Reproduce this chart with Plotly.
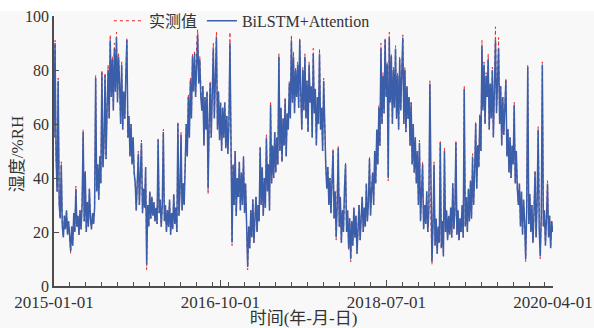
import pandas as pd
import plotly.graph_objects as go

start_date = "2015-01-01"
step = "4D"

predicted = [
    55, 90, 48, 35, 76, 30, 25, 45, 22, 18,
    26, 21, 28, 19, 24, 17, 13, 22, 15, 27,
    20, 36, 22, 26, 19, 28, 21, 30, 57, 24,
    42, 20, 31, 22, 36, 25, 21, 27, 23, 29,
    77, 35, 45, 32, 48, 38, 79, 44, 52, 78,
    47, 66, 80, 62, 91, 70, 84, 65, 88, 72,
    92, 68, 85, 75, 60, 82, 58, 72, 62, 78,
    91, 55, 63, 48, 60, 45, 55, 42, 38, 28,
    42, 49, 30, 40, 53, 27, 36, 29, 44, 8,
    30, 22, 35, 25, 33, 26, 31, 24, 29, 23,
    54, 27, 32, 22, 30, 57, 24, 30, 20, 28,
    22, 32, 19, 27, 21, 34, 23, 29, 20, 60,
    26, 35, 56, 28, 38, 30, 45, 60, 48, 70,
    55, 76, 62, 85, 72, 86, 70, 88, 93, 75,
    84, 70, 65, 74, 52, 70, 58, 72, 36, 60,
    75, 55, 70, 88, 62, 76, 92, 58, 72, 54,
    68, 50, 66, 55, 68, 51, 63, 49, 60, 90,
    55, 16, 45, 30, 50, 26, 40, 33, 46, 28,
    42, 30, 48, 27, 38, 20, 7, 22, 14, 28,
    18, 32, 16, 25, 33, 20, 30, 24, 51, 30,
    44, 26, 40, 29, 55, 35, 45, 28, 67, 38,
    52, 40, 57, 42, 55, 45, 85, 50, 66, 46,
    62, 52, 69, 48, 64, 58, 75, 62, 91, 68,
    85, 64, 80, 70, 82, 66, 91, 72, 58, 80,
    65, 85, 62, 76, 57, 82, 68, 74, 55, 86,
    64, 73, 52, 70, 60, 86, 58, 66, 50, 76,
    56, 45, 36, 44, 30, 40, 27, 38, 50, 25,
    35, 18, 30, 51, 22, 33, 16, 28, 20, 36,
    45, 20, 28, 14, 25, 10, 24, 15, 29, 18,
    26, 12, 22, 30, 17, 25, 33, 20, 29, 22,
    38, 24, 31, 47, 26, 35, 42, 30, 50, 38,
    58, 45, 66, 52, 88, 60, 78, 64, 91, 70,
    82, 40, 92, 68, 85, 60, 80, 66, 88, 62,
    78, 58, 84, 65, 76, 92, 60, 80, 57, 74,
    62, 70, 52, 68, 45, 60, 42, 55, 38, 50,
    30, 53, 24, 32, 45, 21, 30, 23, 35, 20,
    28, 75, 24, 9, 22, 45, 15, 25, 12, 22,
    16, 53, 14, 24, 11, 50, 20, 28, 17, 26,
    19, 29, 18, 38, 21, 27, 53, 19, 28, 17,
    25, 20, 30, 18, 73, 22, 33, 20, 36, 24,
    39, 25, 48, 30, 42, 60, 36, 52, 44, 63,
    50, 89, 65, 82, 60, 78, 70, 84, 58, 75,
    62, 80, 55, 72, 91, 64, 78, 88, 60, 74,
    52, 70, 56, 64, 76, 48, 58, 42, 55, 40,
    52, 45, 67, 38, 50, 36, 30, 38, 22, 35,
    19, 32, 24, 10, 28, 81, 23, 34, 20, 30,
    16, 27, 42, 18, 31, 58, 21, 11, 26, 82,
    22, 28, 15, 25, 38, 18, 26, 14, 24, 20,
]

measured = [
    55, 91, 48, 35, 77, 30, 25, 46, 22, 18,
    26, 21, 28, 19, 24, 17, 12, 22, 15, 27,
    20, 37, 22, 26, 19, 28, 21, 30, 58, 24,
    43, 20, 31, 22, 36, 25, 21, 27, 23, 29,
    78, 35, 45, 32, 48, 38, 80, 44, 52, 79,
    47, 66, 82, 62, 93, 70, 85, 65, 90, 72,
    94, 68, 86, 75, 60, 83, 58, 72, 62, 78,
    92, 55, 63, 48, 60, 45, 55, 42, 38, 28,
    42, 50, 30, 40, 54, 27, 36, 29, 44, 6,
    30, 22, 35, 25, 33, 26, 31, 24, 29, 23,
    55, 27, 32, 22, 30, 58, 24, 30, 20, 28,
    22, 32, 19, 27, 21, 34, 23, 29, 20, 61,
    26, 35, 57, 28, 38, 30, 45, 60, 48, 71,
    55, 77, 62, 86, 72, 87, 70, 90, 95, 75,
    85, 70, 65, 74, 52, 70, 58, 72, 34, 60,
    76, 55, 70, 90, 62, 77, 94, 58, 72, 54,
    68, 50, 66, 55, 68, 51, 63, 49, 60, 94,
    55, 15, 45, 30, 50, 26, 40, 33, 46, 28,
    42, 30, 48, 27, 38, 20, 6, 22, 14, 28,
    18, 32, 16, 25, 33, 20, 30, 24, 52, 30,
    44, 26, 40, 29, 56, 35, 45, 28, 68, 38,
    52, 40, 57, 42, 55, 45, 86, 50, 66, 46,
    62, 52, 70, 48, 64, 58, 76, 62, 93, 68,
    87, 64, 81, 70, 83, 66, 92, 72, 58, 81,
    65, 86, 62, 76, 57, 83, 68, 74, 55, 88,
    64, 73, 52, 70, 60, 88, 58, 66, 50, 77,
    56, 45, 36, 44, 30, 40, 27, 38, 51, 25,
    35, 17, 30, 52, 22, 33, 16, 28, 20, 36,
    46, 20, 28, 13, 25, 9, 24, 15, 29, 18,
    26, 12, 22, 30, 17, 25, 33, 20, 29, 22,
    38, 24, 31, 48, 26, 35, 42, 30, 50, 38,
    58, 45, 67, 52, 90, 60, 79, 64, 92, 70,
    83, 39, 94, 68, 86, 60, 81, 66, 89, 62,
    79, 58, 85, 65, 77, 93, 60, 81, 57, 74,
    62, 70, 52, 68, 45, 60, 42, 55, 38, 50,
    30, 54, 24, 32, 46, 21, 30, 23, 35, 20,
    28, 76, 24, 8, 22, 46, 15, 25, 12, 22,
    16, 54, 14, 24, 11, 51, 20, 28, 17, 26,
    19, 29, 18, 38, 21, 27, 54, 19, 28, 17,
    25, 20, 30, 18, 74, 22, 33, 20, 36, 24,
    39, 25, 49, 30, 42, 61, 36, 52, 44, 64,
    50, 91, 66, 83, 60, 79, 70, 86, 58, 75,
    62, 81, 55, 72, 96, 64, 79, 92, 60, 74,
    52, 70, 56, 64, 77, 48, 58, 42, 55, 40,
    52, 45, 68, 38, 50, 36, 30, 38, 22, 35,
    19, 32, 24, 9, 28, 82, 23, 34, 20, 30,
    16, 27, 43, 18, 31, 59, 21, 10, 26, 83,
    22, 28, 15, 25, 39, 18, 26, 14, 24, 20,
]

tick_dates = ["2015-01-01", "2016-10-01", "2018-07-01", "2020-04-01"]
y_ticks = [0, 20, 40, 60, 80, 100]

dates = pd.date_range(start=start_date, periods=len(predicted), freq=step)

serif = "Liberation Serif, Times New Roman, Noto Sans CJK SC, serif"
axis_col = "#4d4d4d"

fig = go.Figure()
fig.add_trace(go.Scatter(
    x=dates, y=measured, mode="lines", name="实测值",
    line=dict(color="#e8262a", width=1.0, dash="dot"),
))
fig.add_trace(go.Scatter(
    x=dates, y=predicted, mode="lines", name="BiLSTM+Attention",
    line=dict(color="#3a5ea9", width=1.5),
))

# light grey page area below a thin white strip at the top
fig.add_shape(type="rect", xref="paper", yref="paper",
              x0=-0.2, x1=1.2, y0=-0.2, y1=(286 - 11) / 270,
              fillcolor="#f8f8f8", line_width=0, layer="below")

# y-axis title placed close to the axis, as in the reference
fig.add_annotation(text="湿度/%RH", textangle=-90, showarrow=False,
                   xref="paper", yref="paper", x=(17 - 53.5) / 499.5, y=0.49,
                   xanchor="center", yanchor="middle",
                   font=dict(size=17, family=serif, color="#333333"))

fig.update_layout(
    width=594, height=328,
    margin=dict(l=53.5, r=41, t=16, b=42, autoexpand=False),
    paper_bgcolor="white", plot_bgcolor="#f8f8f8",
    font=dict(family=serif, size=16, color="#333333"),
    showlegend=True,
    legend=dict(orientation="h", x=0.11, y=1.045, xanchor="left", yanchor="top",
                bgcolor="rgba(0,0,0,0)", font=dict(size=16, family=serif),
                itemwidth=30, tracegroupgap=0),
    xaxis=dict(
        type="date", range=["2015-01-01", "2020-04-01"],
        tickvals=tick_dates, ticktext=tick_dates,
        ticks="inside", ticklen=6, tickwidth=1, tickcolor=axis_col,
        showline=True, linecolor=axis_col, linewidth=1.5,
        showgrid=False, zeroline=False,
        tickfont=dict(size=17, family=serif, color="#333333"),
        minor=dict(ticks="inside", ticklen=4, tickcolor=axis_col, dtick="M2",
                   tick0="2015-03-01", showgrid=False),
        title=dict(text="时间(年-月-日)", font=dict(size=17, family=serif), standoff=6),
    ),
    yaxis=dict(
        range=[0, 100], tickvals=y_ticks,
        ticks="inside", ticklen=5, tickwidth=1, tickcolor=axis_col,
        showline=True, linecolor=axis_col, linewidth=1.5,
        showgrid=False, zeroline=False,
        tickfont=dict(size=16, family=serif, color="#333333"),
    ),
)

fig.write_html("out.html")
